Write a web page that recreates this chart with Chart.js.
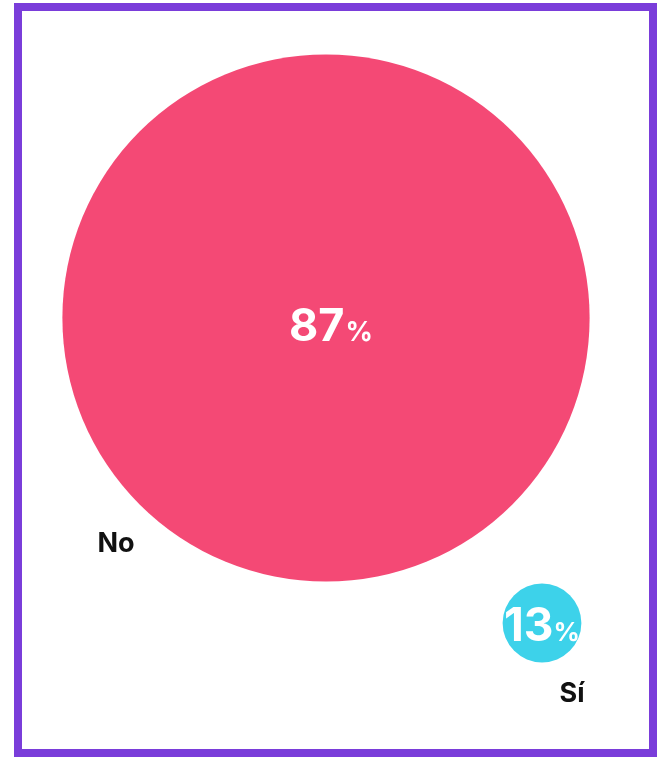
<!DOCTYPE html>
<html>
<head>
<meta charset="utf-8">
<script src="https://cdn.jsdelivr.net/npm/chart.js@4.4.1/dist/chart.umd.min.js"></script>
<style>
  html, body { margin: 0; padding: 0; background: #ffffff; }
  #wrap { position: relative; width: 660px; height: 759px; }
  #frame { position: absolute; left: 14px; top: 3px; width: 643px; height: 754px; box-sizing: border-box; border: 8px solid #7A3DDA; pointer-events: none; }
  canvas { position: absolute; left: 0; top: 0; }
</style>
</head>
<body>
<div id="wrap">
  <canvas id="c" width="660" height="759"></canvas>
  <div id="frame"></div>
</div>
<script>
const categories = ['No', 'Sí'];
const values = [87, 13];
const colors = ['#F44975', '#3DD2EA'];

const FONT = 'Inter, "Open Sans", sans-serif';
const W = 660, H = 759;
const radiusPerUnit = 3.03;
// label baselines relative to each bubble centre (layout)
const labelOffsets = [{ dx: -210, dy: 234 }, { dx: 30, dy: 79 }];

const dataPoints = values.map((v, i) => ({ x: i, y: i, r: v * radiusPerUnit }));
const pxPerUnitX = 216, pxPerUnitY = 305;
const xMin = -326 / pxPerUnitX, xMax = xMin + W / pxPerUnitX;
const yMin = -318 / pxPerUnitY, yMax = yMin + H / pxPerUnitY;

const labelPlugin = {
  id: 'bubbleLabels',
  afterDatasetsDraw(chart) {
    const ctx = chart.ctx;
    const meta = chart.getDatasetMeta(0);
    meta.data.forEach((el, i) => {
      const cx = el.x, cy = el.y;
      const big = i === 0;
      const numTxt = String(values[i]);
      const numFont = big ? `bold 45px ${FONT}` : `bold 46px ${FONT}`;
      const pctFont = big ? `bold 27px ${FONT}` : `bold 26px ${FONT}`;
      const gap = big ? 1 : 0;
      ctx.save();
      ctx.fillStyle = '#ffffff';
      ctx.textBaseline = 'alphabetic';
      ctx.textAlign = 'left';
      ctx.font = numFont;
      const wNum = ctx.measureText(numTxt).width;
      ctx.font = pctFont;
      const wPct = ctx.measureText('%').width;
      const total = wNum + wPct + gap;
      const shift = big ? 5 : 0;
      const base = big ? cy + 23 : cy + 18;
      const x0 = cx + shift - total / 2;
      ctx.font = numFont;
      ctx.fillText(numTxt, x0, base);
      ctx.font = pctFont;
      ctx.fillText('%', x0 + wNum + gap, base);

      ctx.fillStyle = '#111111';
      ctx.font = `bold 27px ${FONT}`;
      ctx.textAlign = 'center';
      ctx.fillText(categories[i], cx + labelOffsets[i].dx, cy + labelOffsets[i].dy);
      ctx.restore();
    });
  }
};

new Chart(document.getElementById('c'), {
  type: 'bubble',
  data: {
    labels: categories,
    datasets: [{
      data: dataPoints,
      backgroundColor: colors,
      borderWidth: 0,
      hoverRadius: 0,
      clip: false
    }]
  },
  options: {
    responsive: false,
    animation: false,
    events: [],
    layout: { padding: 0, autoPadding: false },
    plugins: { legend: { display: false }, tooltip: { enabled: false } },
    scales: {
      x: { type: 'linear', display: false, min: xMin, max: xMax },
      y: { type: 'linear', display: false, reverse: true, min: yMin, max: yMax }
    }
  },
  plugins: [labelPlugin]
});
</script>
</body>
</html>
